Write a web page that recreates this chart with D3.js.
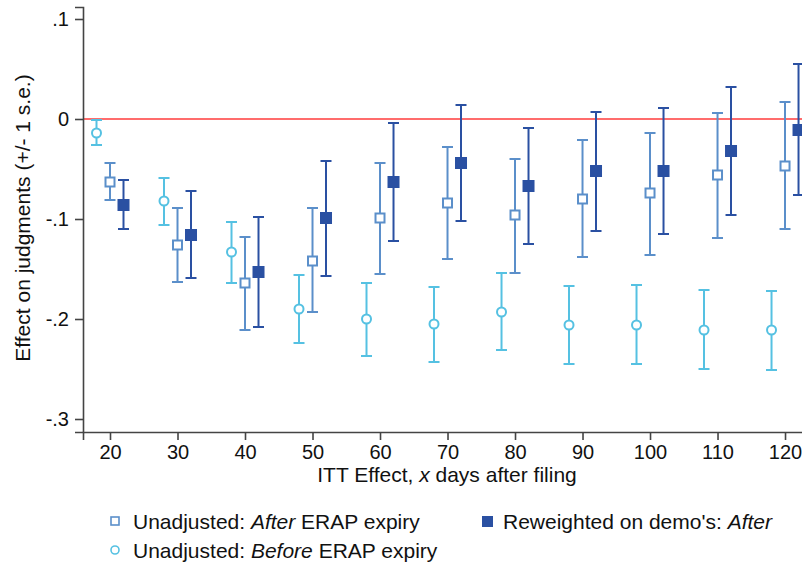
<!DOCTYPE html>
<html>
<head>
<meta charset="utf-8">
<script src="https://cdn.jsdelivr.net/npm/d3@7"></script>
<style>
  body { margin: 0; background: #fff; }
  svg text { font-family: "Liberation Sans", Arial, sans-serif; fill: #111; }
</style>
</head>
<body>
<div id="chart"></div>
<script>
// days after filing (tick positions)
var days = [20, 30, 40, 50, 60, 70, 80, 90, 100, 110, 120];
var yTicks = [0.1, 0, -0.1, -0.2, -0.3];
var yTickLabels = [".1", "0", "-.1", "-.2", "-.3"];

// Unadjusted: Before ERAP expiry
var beforeEst = [-0.014, -0.082, -0.133, -0.190, -0.200, -0.205, -0.193, -0.206, -0.206, -0.211, -0.211];
var beforeLo  = [-0.026, -0.106, -0.164, -0.224, -0.237, -0.243, -0.231, -0.245, -0.245, -0.250, -0.251];
var beforeHi  = [-0.001, -0.059, -0.103, -0.156, -0.164, -0.168, -0.154, -0.167, -0.166, -0.171, -0.172];

// Unadjusted: After ERAP expiry
var afterEst = [-0.063, -0.126, -0.164, -0.142, -0.099, -0.084, -0.096, -0.080, -0.074, -0.056, -0.047];
var afterLo  = [-0.081, -0.163, -0.211, -0.193, -0.155, -0.140, -0.154, -0.138, -0.136, -0.119, -0.110];
var afterHi  = [-0.044, -0.089, -0.118, -0.089, -0.044, -0.028, -0.040, -0.021, -0.014, 0.006, 0.017];

// Reweighted on demo's: After
var rewEst = [-0.086, -0.116, -0.153, -0.099, -0.063, -0.044, -0.067, -0.052, -0.052, -0.032, -0.011];
var rewLo  = [-0.110, -0.159, -0.208, -0.157, -0.122, -0.102, -0.125, -0.112, -0.115, -0.096, -0.076];
var rewHi  = [-0.061, -0.072, -0.098, -0.042, -0.004, 0.014, -0.009, 0.007, 0.011, 0.032, 0.055];

var width = 802, height = 566;
var cBefore = "#55c1e2", cAfter = "#5b8fca", cRew = "#2a50a2";

var svg = d3.select("#chart").append("svg")
    .attr("width", width)
    .attr("height", height);

var x = d3.scaleLinear().domain([16, 124.5]).range([83, 815.4]);
var y = d3.scaleLinear().domain([-0.313, 0.112]).range([432, 7]);

// zero reference line
svg.append("line")
    .attr("x1", x(16)).attr("x2", width)
    .attr("y1", y(0)).attr("y2", y(0))
    .attr("stroke", "#ff3b3b")
    .attr("stroke-width", 1.5);

// axes
var yAxis = d3.axisLeft(y).tickValues(yTicks).tickSize(8).tickPadding(6)
    .tickFormat(function (d, i) { return yTickLabels[i]; });
var gy = svg.append("g").attr("transform", "translate(" + x(16) + ",0)").call(yAxis);

var xAxis = d3.axisBottom(x).tickValues(days).tickSize(8).tickPadding(5);
var gx = svg.append("g").attr("transform", "translate(0," + y(-0.313) + ")").call(xAxis);

[gx, gy].forEach(function (g) {
    g.select(".domain").attr("stroke", "#444").attr("stroke-width", 1.6);
    g.selectAll(".tick line").attr("stroke", "#444").attr("stroke-width", 1.6);
    g.selectAll(".tick text").style("font-size", "20px").attr("fill", "#111")
        .style("font-family", "'Liberation Sans', Arial, sans-serif");
});

svg.append("text")
    .attr("x", 447).attr("y", 482)
    .attr("text-anchor", "middle")
    .style("font-size", "21px")
    .html("ITT Effect, <tspan font-style='italic'>x</tspan> days after filing");

svg.append("text")
    .attr("transform", "translate(30," + 218 + ") rotate(-90)")
    .attr("text-anchor", "middle")
    .style("font-size", "21px")
    .text("Effect on judgments (+/- 1 s.e.)");

// error bars
function drawBars(est, lo, hi, offset, color) {
    var g = svg.append("g");
    var data = days.map(function (d, i) { return { x: d + offset, est: est[i], lo: lo[i], hi: hi[i] }; });
    var cap = 5.5;
    var bars = g.selectAll("g").data(data).enter().append("g")
        .attr("stroke", color).attr("stroke-width", 2).attr("fill", "none");
    bars.append("line")
        .attr("x1", function (d) { return x(d.x); }).attr("x2", function (d) { return x(d.x); })
        .attr("y1", function (d) { return y(d.lo); }).attr("y2", function (d) { return y(d.hi); });
    bars.append("line")
        .attr("x1", function (d) { return x(d.x) - cap; }).attr("x2", function (d) { return x(d.x) + cap; })
        .attr("y1", function (d) { return y(d.lo); }).attr("y2", function (d) { return y(d.lo); });
    bars.append("line")
        .attr("x1", function (d) { return x(d.x) - cap; }).attr("x2", function (d) { return x(d.x) + cap; })
        .attr("y1", function (d) { return y(d.hi); }).attr("y2", function (d) { return y(d.hi); });
    return bars;
}

var bBefore = drawBars(beforeEst, beforeLo, beforeHi, -2, cBefore);
bBefore.append("circle")
    .attr("cx", function (d) { return x(d.x); })
    .attr("cy", function (d) { return y(d.est); })
    .attr("r", 4.5)
    .attr("fill", "#fff");

var bAfter = drawBars(afterEst, afterLo, afterHi, 0, cAfter);
bAfter.append("rect")
    .attr("x", function (d) { return x(d.x) - 4.5; })
    .attr("y", function (d) { return y(d.est) - 4.5; })
    .attr("width", 9).attr("height", 9)
    .attr("fill", "#fff");

var bRew = drawBars(rewEst, rewLo, rewHi, 2, cRew);
bRew.append("rect")
    .attr("x", function (d) { return x(d.x) - 6; })
    .attr("y", function (d) { return y(d.est) - 6; })
    .attr("width", 12).attr("height", 12)
    .attr("fill", cRew).attr("stroke", "none");

// legend
var leg = svg.append("g").style("font-size", "21px");
leg.append("rect").attr("x", 111).attr("y", 517).attr("width", 8).attr("height", 8)
    .attr("fill", "#fff").attr("stroke", cAfter).attr("stroke-width", 1.6);
leg.append("text").attr("x", 133).attr("y", 529)
    .html("Unadjusted: <tspan font-style='italic'>After</tspan> ERAP expiry");
leg.append("circle").attr("cx", 115).attr("cy", 550).attr("r", 4)
    .attr("fill", "#fff").attr("stroke", cBefore).attr("stroke-width", 1.6);
leg.append("text").attr("x", 133).attr("y", 558)
    .html("Unadjusted: <tspan font-style='italic'>Before</tspan> ERAP expiry");
leg.append("rect").attr("x", 482).attr("y", 516).attr("width", 11).attr("height", 11)
    .attr("fill", cRew);
leg.append("text").attr("x", 503).attr("y", 529)
    .html("Reweighted on demo's: <tspan font-style='italic'>After</tspan>");
</script>
</body>
</html>
